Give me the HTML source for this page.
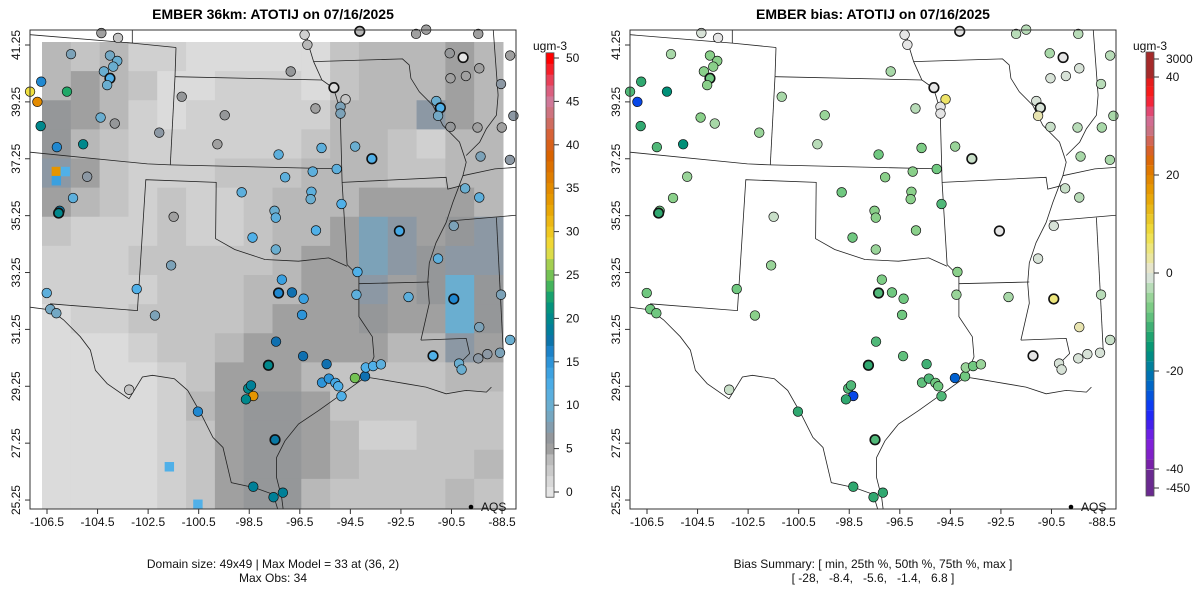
<!DOCTYPE html>
<html><head><meta charset="utf-8"><style>
html,body{margin:0;padding:0;background:#fff;}
svg{display:block;font-family:"Liberation Sans",Arial,sans-serif;}
</style></head><body>
<svg id="chart" width="1200" height="600" viewBox="0 0 1200 600" xmlns="http://www.w3.org/2000/svg"></svg>
<script>
// ---- data ----
const xTicks=[-106.5,-104.5,-102.5,-100.5,-98.5,-96.5,-94.5,-92.5,-90.5,-88.5];
const yTicks=[25.25,27.25,29.25,31.25,33.25,35.25,37.25,39.25,41.25];
const concTicks=[0,5,10,15,20,25,30,35,40,45,50];
const biasTickLabels=["3000","40","20","0","-20","-40","-450"];
const biasTickVals=[3000,40,20,0,-20,-40,-450];
const field=[
[4,3,4,2,2,1,1,1,1,1,3,4,4,4,5,4],
[4,5,4,3,1,1,2,2,2,1,3,4,4,4,5,4],
[6,5,4,2,1,2,2,2,2,2,4,4,4,7,5,4],
[6,4,3,2,2,2,2,2,2,3,4,4,3,2,4,4],
[7,5,3,2,2,2,3,3,3,4,4,4,3,3,4,4],
[5,4,3,2,3,2,2,3,4,4,4,5,5,5,5,4],
[3,2,2,2,3,2,2,3,4,4,5,8,7,5,6,7],
[2,2,2,3,3,3,3,3,4,5,5,8,7,6,7,7],
[2,2,2,2,3,3,3,4,4,5,5,7,5,6,10,6],
[1,2,2,3,3,3,3,4,5,5,5,6,5,5,10,6],
[1,1,1,2,3,3,4,5,5,5,5,5,4,4,7,5],
[1,1,1,1,2,3,5,5,5,4,3,3,3,3,4,4],
[1,1,1,1,2,4,5,6,6,5,3,3,3,3,3,3],
[1,1,1,1,2,3,5,6,6,5,4,2,2,3,3,3],
[1,1,1,1,2,3,5,6,6,5,4,3,3,3,3,4],
[1,1,1,1,2,3,5,6,6,4,3,3,3,3,4,3]];
const hotLon=[-106.13,-105.78,-106.13,-101.66,-100.53];
const hotLat=[36.8,36.8,36.48,26.42,25.1];
const hotVal=[34,12,14,12,12];
const stLon=[-104.35,-103.69,-105.55,-104.01,-103.72,-103.88,-104.25,-104.01,-104.12,-106.73,-105.71,-106.88,-107.17,-106.75,-104.38,-103.82,-102.06,-106.11,-105.07,-104.91,-105.47,-106.0,-106.04,-101.49,-101.17,-99.47,-99.76,-97.34,-95.64,-96.86,-95.88,-95.15,-94.69,-94.89,-94.89,-94.31,-93.65,-95.04,-95.99,-97.08,-98.8,-96.04,-96.07,-97.5,-97.45,-94.85,-95.86,-98.37,-97.45,-92.56,-91.03,-90.41,-89.96,-89.4,-94.22,-94.26,-92.2,-90.41,-89.4,-88.54,-97.21,-97.34,-96.81,-96.35,-96.41,-106.51,-106.37,-106.13,-102.95,-101.59,-102.23,-97.44,-96.37,-97.74,-95.44,-98.54,-98.43,-98.34,-98.63,-95.62,-95.35,-95.09,-94.98,-94.85,-94.32,-93.92,-93.89,-93.6,-93.29,-91.23,-90.2,-90.1,-89.44,-89.08,-88.58,-88.18,-103.25,-100.53,-97.48,-98.34,-97.54,-97.17,-90.57,-90.04,-89.93,-90.54,-89.4,-91.1,-90.94,-91.03,-90.54,-89.47,-88.51,-89.35,-88.19,-88.18,-88.54,-96.31,-96.2,-94.13,-91.9,-91.5,-89.44,-88.05];
const stLat=[41.67,41.5,40.93,40.88,40.69,40.49,40.32,40.08,39.84,39.96,39.61,39.25,39.61,38.4,38.7,38.49,38.17,37.66,37.76,36.62,35.87,35.42,35.34,35.21,39.43,38.78,37.76,37.4,37.63,40.32,39.02,39.75,39.34,39.08,38.84,37.68,37.25,36.89,36.8,36.6,36.07,36.09,35.83,35.42,35.18,35.66,34.73,34.48,34.06,34.71,33.74,34.89,36.21,35.89,33.27,32.47,32.39,32.32,31.33,32.47,33.0,32.53,32.55,32.33,31.76,32.53,31.96,31.82,32.67,33.5,31.74,30.82,30.31,29.99,30.03,29.17,29.28,28.91,28.79,29.38,29.52,29.37,29.25,28.9,29.54,29.6,29.91,29.96,30.02,30.32,30.05,29.84,30.23,30.38,30.43,30.88,29.13,28.36,27.37,25.72,25.35,25.51,40.96,40.81,40.16,40.08,40.43,39.28,39.04,38.76,38.37,38.35,38.35,37.33,37.21,40.88,39.88,41.61,41.26,41.73,41.64,41.79,41.64,38.76];
const stObs=[5,3,8,9,10,10,10,12,10,16,23,35,28,20,10,6,7,16,20,7,11,18,20,5,6,6,5,11,11,6,5,1,3,8,8,10,12,11,11,11,11,11,10,10,11,12,12,12,10,13,11,8,10,11,12,11,11,16,8,8,14,16,17,14,15,11,9,9,12,8,8,17,17,20,17,20,19,34,20,15,15,13,12,12,25,17,12,12,11,12,10,10,7,7,8,10,3,16,18,19,19,19,6,0,5,5,5,10,12,9,6,5,5,8,7,5,7,2,4,4,5,5,5,7];
const stBias=[-1,0,-4,-6,-6,-6,-6,-8,-6,-12,-16,-26,-10,-12,-6,-4,-5,-10,-16,-5,-6,-8,-12,-2,-4,-5,-3,-8,-7,-4,-3,0,6,0,0,-5,-2,-8,-6,-6,-8,-6,-6,-6,-6,-10,-6,-8,-5,0,-1,-1,-2,-3,-6,-5,-4,5,2,-3,-7,-10,-8,-8,-8,-8,-8,-8,-8,-5,-6,-10,-9,-12,-11,-10,-10,-26,-12,-9,-10,-8,-8,-10,-24,-8,-5,-8,-5,0,-1,-1,-1,-1,-1,-2,-2,-12,-10,-12,-12,-12,-4,0,-1,-1,-1,-1,-1,2,-2,-3,-4,-4,-4,-3,-3,0,0,0,-3,-3,-3,-4];
const boldIdx=[7,22,31,36,49,57,61,73,89,98,103,108,119];

// ---- helpers ----
const svg=document.getElementById('chart');
const NS='http://www.w3.org/2000/svg';
function mk(tag,attrs,parent){const e=document.createElementNS(NS,tag);for(const k in attrs)e.setAttribute(k,attrs[k]);(parent||svg).appendChild(e);return e;}
function xScale(lon,off){return off+47+(lon+106.5)*25.28;}
function yScale(lat){return 45+(41.25-lat)*28.44;}
function hex(c){return [parseInt(c.slice(1,3),16),parseInt(c.slice(3,5),16),parseInt(c.slice(5,7),16)];}
function interp(stops,v){
  if(v<=stops[0][0])return stops[0][1];
  if(v>=stops[stops.length-1][0])return stops[stops.length-1][1];
  for(let i=0;i<stops.length-1;i++){const a=stops[i],b=stops[i+1];
    if(v>=a[0]&&v<=b[0]){const t=(v-a[0])/(b[0]-a[0]);const ca=hex(a[1]),cb=hex(b[1]);
      return 'rgb('+ca.map((x,j)=>Math.round(x+(cb[j]-x)*t)).join(',')+')';}}
}
const concStops=[[0,'#e5e5e5'],[2,'#d0d0d0'],[4,'#b8b8b8'],[5,'#a0a0a0'],[6,'#959799'],[7,'#8c98a4'],[8,'#7ca2b8'],[10,'#6aaed0'],[12,'#50b0e8'],[14,'#3aa0e0'],[16,'#2088d0'],[17,'#1070b0'],[19,'#008098'],[21,'#009080'],[23,'#20a868'],[24,'#50b858'],[26,'#98cc50'],[27,'#c8d850'],[28,'#f0e040'],[30,'#f0c820'],[33,'#e8a000'],[36,'#e08000'],[39,'#d86000'],[41,'#d86030'],[43,'#cc7070'],[45,'#d07898'],[47,'#e05070'],[48,'#f03040'],[50,'#ff0000']];
const biasStops=[[-40,'#702090'],[-38,'#8020c0'],[-34,'#8020e0'],[-30,'#3020f0'],[-28,'#1030ff'],[-24,'#0060d0'],[-20,'#0078a8'],[-18,'#008890'],[-16,'#009078'],[-14,'#10a070'],[-12,'#30a870'],[-10,'#50b878'],[-8,'#70c880'],[-6,'#8ad08a'],[-4,'#a8d8a8'],[-2,'#c8dfc8'],[0,'#e5e5e5'],[2,'#e8e4b0'],[4,'#ece890'],[8,'#f0e040'],[12,'#e8c020'],[16,'#e8a000'],[20,'#e08000'],[22,'#e07000'],[24,'#d86010'],[26,'#d86040'],[28,'#cc6a6a'],[30,'#c87898'],[32,'#d9608a'],[34,'#e8305a'],[36,'#ff1a1a'],[40,'#dd1c1c'],[44,'#a0282a']];
const concColor=v=>interp(concStops,v);
const biasColor=v=>interp(biasStops,v);

// ---- borders (pixel coords of base panel, zoom-space) ----
const borders=[
[[0,20],[305,45],[435,58]],[[305,0],[305,45]],[[435,58],[432,145]],[[432,145],[870,155]],[[432,145],[418,408]],
[[0,370],[350,405],[418,408],[925,420]],[[820,0],[830,50],[845,100],[870,155],[905,180],[920,230],[925,270],[930,460],[945,705],[980,740]],
[[845,100],[1110,92],[1130,110],[1135,150],[1160,190],[1200,230],[1230,290],[1280,340],[1300,400],[1290,440],[1260,520],[1240,580],[1210,640],[1190,700],[1185,760],[1190,820],[1165,930]],
[[930,460],[1240,445],[1245,480],[1285,470]],[[1380,0],[1395,200],[1390,260],[1360,300],[1340,340],[1300,380]],
[[1290,440],[1385,420],[1450,415]],[[1250,575],[1450,558]],[[980,762],[1190,757]],
[[980,740],[980,860],[1020,920],[1025,980],[1000,1040]],[[1165,930],[1300,925],[1310,970],[1280,1000]],[[1390,565],[1410,960]],
[[1000,1040],[1050,1048],[1120,1060],[1180,1070],[1240,1090],[1300,1080],[1360,1085],[1375,1070]],
[[1000,1040],[930,1090],[860,1140],[800,1180],[760,1230],[735,1280],[735,1340],[750,1400],[755,1440]],
[[0,832],[60,840],[100,870],[150,920],[180,960],[195,1020],[230,1060],[295,1105],[335,1040],[365,1035],[430,1045],[470,1080],[510,1150],[545,1220],[575,1250],[600,1355],[670,1370],[725,1390],[740,1440]],
[[60,822],[320,842],[345,452],[555,460],[553,628],[610,660],[700,690],[800,695],[890,685],[945,710]]];

function panel(off,isBias){
  const g=mk('g',{});
  
  
  const clipId='clip'+off;
  const cp=mk('clipPath',{id:clipId},g);mk('rect',{x:off+30,y:30,width:486,height:479},cp);
  const inner=mk('g',{'clip-path':'url(#'+clipId+')'},g);
  if(!isBias){
    const cw=461/16,ch=466/16;
    field.forEach((row,r)=>row.forEach((v,c)=>{
      const e=mk('rect',{x:off+42+c*cw,y:42+r*ch,width:cw+0.5,height:ch+0.5,fill:concColor(v)},inner);
      
      
    }));
    hotLon.forEach((lo,i)=>{
      const e=mk('rect',{x:xScale(lo,off)-4.7,y:yScale(hotLat[i])-4.75,width:9.4,height:9.5,fill:concColor(hotVal[i])},inner);
      
      
    });
  }
  borders.forEach(b=>{
    const pts=b.map(p=>(off+30+p[0]/2.98).toFixed(1)+','+(28+p[1]/2.98).toFixed(1)).join(' ');
    const e=mk('polyline',{points:pts,fill:'none',stroke:'#222',"stroke-width":0.8},inner);
    
    
  });
  stLon.forEach((lo,i)=>{
    const v=isBias?stBias[i]:stObs[i];
    const bold=boldIdx.indexOf(i)>=0;
    const e=mk('circle',{cx:xScale(lo,off),cy:yScale(stLat[i]),r:4.8,fill:isBias?biasColor(v):concColor(v),stroke:'#111',"stroke-width":bold?1.6:0.7},g);
    
    
  });
  const bx=mk('rect',{x:off+30,y:30,width:486,height:479,fill:'none',stroke:'#333',"stroke-width":1},g);
  
  
  xTicks.forEach(t=>{
    const x=xScale(t,off);
    mk('line',{x1:x,y1:509,x2:x,y2:514,stroke:'#333'},g);
    const e=mk('text',{x:x,y:526,'font-size':12,'text-anchor':'middle',fill:'#111'},g);e.textContent=t.toFixed(1);
    
    
  });
  yTicks.forEach(t=>{
    const y=yScale(t);
    mk('line',{x1:off+25,y1:y,x2:off+30,y2:y,stroke:'#333'},g);
    const e=mk('text',{x:off+20,y:y,'font-size':12,'text-anchor':'middle',fill:'#111',transform:'rotate(-90 '+(off+20)+' '+y+')'},g);e.textContent=t.toFixed(2);
    
    
  });
  const ld=mk('circle',{cx:off+471,cy:507,r:2.3,fill:'#000'},g);
  
  
  const lt=mk('text',{x:off+481,y:511,'font-size':12,fill:'#111'},g);lt.textContent='AQS';
  
  
  const tt=mk('text',{x:off+273,y:19,'font-size':14,'font-weight':'bold','text-anchor':'middle',fill:'#000'},g);
  tt.textContent=isBias?'EMBER bias: ATOTIJ on 07/16/2025':'EMBER 36km: ATOTIJ on 07/16/2025';
  
  
  const l1=mk('text',{x:off+273,y:568,'font-size':12,'text-anchor':'middle',fill:'#111',style:'white-space:pre'},g);
  l1.textContent=isBias?'Bias Summary: [ min, 25th %, 50th %, 75th %, max ]':'Domain size: 49x49 | Max Model = 33 at (36, 2)';
  
  
  const l2=mk('text',{x:off+273,y:582,'font-size':12,'text-anchor':'middle',fill:'#111',style:'white-space:pre'},g);
  l2.textContent=isBias?'[ -28,   -8.4,   -5.6,   -1.4,   6.8 ]':'Max Obs: 34';
  
  
}
panel(0,false);
panel(600,true);

function unitLabel(x){const e=mk('text',{x:x,y:50,'font-size':12,'text-anchor':'middle',fill:'#111'});e.textContent='ugm-3';
  
  }
const cY=v=>492-v*8.68;
const cb=mk('g',{});


for(let v=-0.625;v<50.6;v+=1.25){mk('rect',{x:546,y:cY(v+1.25),width:8,height:1.25*8.68+0.4,fill:concColor(v+0.625)},cb);}
mk('rect',{x:546,y:cY(50.6),width:8,height:cY(-0.6)-cY(50.6),fill:'none',stroke:'#555','stroke-width':0.8},cb);
concTicks.forEach(t=>{mk('line',{x1:554,y1:cY(t),x2:559,y2:cY(t),stroke:'#333'},cb);
  const e=mk('text',{x:566,y:cY(t)+4,'font-size':12,fill:'#111'},cb);e.textContent=t;
  
  });
unitLabel(550);
const bY=v=>v>40?78-(Math.min(v,3000)-40)/2960*19:(v<-40?470+(Math.min(-v,450)-40)/410*18:273-v*4.9);
const bb=mk('g',{});


for(let v=-40;v<40;v+=2){mk('rect',{x:1146,y:bY(v+2),width:8,height:9.9,fill:biasColor(v+1)},bb);}
mk('rect',{x:1146,y:52,width:8,height:26.5,fill:'#a52a2a'},bb);
mk('rect',{x:1146,y:469.5,width:8,height:26.5,fill:'#6a2a90'},bb);
mk('rect',{x:1146,y:52,width:8,height:444,fill:'none',stroke:'#555','stroke-width':0.8},bb);
biasTickVals.forEach((t,i)=>{mk('line',{x1:1154,y1:bY(t),x2:1159,y2:bY(t),stroke:'#333'},bb);
  const e=mk('text',{x:1166,y:bY(t)+4,'font-size':12,fill:'#111'},bb);e.textContent=biasTickLabels[i];
  
  });
unitLabel(1150);
</script>
</body></html>
